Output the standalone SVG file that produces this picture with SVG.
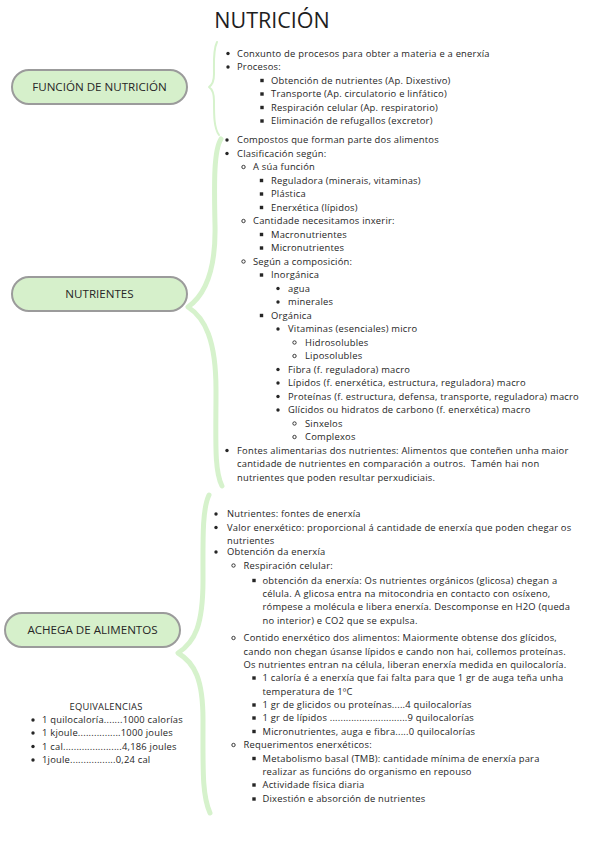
<svg xmlns="http://www.w3.org/2000/svg" xmlns:xlink="http://www.w3.org/1999/xlink" width="600" height="848" viewBox="0 0 600 848">
<style>
.t{font-family:"Open Sans","Noto Sans","DejaVu Sans",sans-serif;font-size:9.4px;letter-spacing:0.22px;fill:#262626}
.n{font-family:"Open Sans","Noto Sans","DejaVu Sans",sans-serif;font-size:11.6px;fill:#262626;text-anchor:middle}
.box{fill:#d6f0cb;stroke:#9b9b9b;stroke-width:2}
.br{fill:none;stroke:#d6f2cc;stroke-linecap:round;stroke-linejoin:round}
.title{font-family:"Open Sans","Noto Sans","DejaVu Sans",sans-serif;font-size:21.5px;fill:#1e1e1e;text-anchor:middle}
</style>
<defs>
<circle id="b1" r="1.7" fill="#262626"/>
<circle id="b2" r="1.7" fill="none" stroke="#262626" stroke-width="0.9"/>
<rect id="b3" x="-1.7" y="-1.7" width="3.4" height="3.4" fill="#262626"/>
</defs>
<rect width="600" height="848" fill="#fff"/>
<g id="title"><text class="title" x="272" y="28">NUTRICIÓN</text></g>

<g id="connectors">
<path class="br" stroke-width="2" d="M217,42 C213,50 214,62 214,74 C214,82 212,85 209,87 C212,89 214,93 214,101 C214,116 214,128 219,135"/>
<path class="br" stroke-width="5" d="M221,139 C214,150 214,180 215,225 C216,270 205,295 188,307 C205,318 216,340 216,390 C216,440 214,470 222,486"/>
<path class="br" stroke-width="5" d="M209,495 C202,510 203,540 203,580 C203,625 195,642 178,653 C195,663 203,680 203,720 C203,770 202,795 210,813"/>
</g>

<g id="node-funcion">
<rect class="box" x="12" y="70" width="175" height="34" rx="17"/>
<text class="n" x="99.5" y="91.2">FUNCIÓN DE NUTRICIÓN</text>
</g>
<g id="node-nutrientes">
<rect class="box" x="12" y="277" width="175" height="34" rx="17"/>
<text class="n" x="99.5" y="298.2">NUTRIENTES</text>
</g>
<g id="node-achega">
<rect class="box" x="5" y="613" width="175" height="34" rx="17"/>
<text class="n" x="92.5" y="634.2">ACHEGA DE ALIMENTOS</text>
</g>

<g id="list-funcion">
<use href="#b1" x="228" y="53.5"/><text class="t" x="237" y="56.5">Conxunto de procesos para obter a materia e a enerxía</text>
<use href="#b1" x="228" y="67"/><text class="t" x="237" y="70">Procesos:</text>
<use href="#b3" x="262" y="80.5"/><text class="t" x="271" y="83.5">Obtención de nutrientes (Ap. Dixestivo)</text>
<use href="#b3" x="262" y="94"/><text class="t" x="271" y="97">Transporte (Ap. circulatorio e linfático)</text>
<use href="#b3" x="262" y="107.5"/><text class="t" x="271" y="110.5">Respiración celular (Ap. respiratorio)</text>
<use href="#b3" x="262" y="121"/><text class="t" x="271" y="124">Eliminación de refugallos (excretor)</text>
</g>

<g id="list-nutrientes">
<use href="#b1" x="227" y="140"/><text class="t" x="237" y="143">Compostos que forman parte dos alimentos</text>
<use href="#b1" x="227" y="153.5"/><text class="t" x="237" y="156.5">Clasificación según:</text>
<use href="#b2" x="243.5" y="167"/><text class="t" x="253" y="170">A súa función</text>
<use href="#b3" x="261.5" y="180.5"/><text class="t" x="271" y="183.5">Reguladora (minerais, vitaminas)</text>
<use href="#b3" x="261.5" y="194"/><text class="t" x="271" y="197">Plástica</text>
<use href="#b3" x="261.5" y="207.5"/><text class="t" x="271" y="210.5">Enerxética (lípidos)</text>
<use href="#b2" x="243.5" y="221"/><text class="t" x="253" y="224">Cantidade necesitamos inxerir:</text>
<use href="#b3" x="261.5" y="234.5"/><text class="t" x="271" y="237.5">Macronutrientes</text>
<use href="#b3" x="261.5" y="248"/><text class="t" x="271" y="251">Micronutrientes</text>
<use href="#b2" x="243.5" y="261.5"/><text class="t" x="253" y="264.5">Según a composición:</text>
<use href="#b3" x="261.5" y="275"/><text class="t" x="271" y="278">Inorgánica</text>
<use href="#b1" x="278" y="288.5"/><text class="t" x="288" y="291.5">agua</text>
<use href="#b1" x="278" y="302"/><text class="t" x="288" y="305">minerales</text>
<use href="#b3" x="261.5" y="315.5"/><text class="t" x="271" y="318.5">Orgánica</text>
<use href="#b1" x="278" y="329"/><text class="t" x="288" y="332">Vitaminas (esenciales) micro</text>
<use href="#b2" x="294.5" y="342.5"/><text class="t" x="305" y="345.5">Hidrosolubles</text>
<use href="#b2" x="294.5" y="356"/><text class="t" x="305" y="359">Liposolubles</text>
<use href="#b1" x="278" y="369.5"/><text class="t" x="288" y="372.5">Fibra (f. reguladora) macro</text>
<use href="#b1" x="278" y="383"/><text class="t" x="288" y="386">Lípidos (f. enerxética, estructura, reguladora) macro</text>
<use href="#b1" x="278" y="396.5"/><text class="t" x="288" y="399.5">Proteínas (f. estructura, defensa, transporte, reguladora) macro</text>
<use href="#b1" x="278" y="410"/><text class="t" x="288" y="413">Glícidos ou hidratos de carbono (f. enerxética) macro</text>
<use href="#b2" x="294.5" y="423.5"/><text class="t" x="305" y="426.5">Sinxelos</text>
<use href="#b2" x="294.5" y="437"/><text class="t" x="305" y="440">Complexos</text>
<use href="#b1" x="227" y="450.5"/><text class="t" x="237" y="453.5">Fontes alimentarias dos nutrientes: Alimentos que conteñen unha maior</text>
<text class="t" x="237" y="467" xml:space="preserve">cantidade de nutrientes en comparación a outros.  Tamén hai non</text>
<text class="t" x="237" y="480.5">nutrientes que poden resultar perxudiciais.</text>
</g>

<g id="list-achega">
<use href="#b1" x="216" y="514"/><text class="t" x="227" y="517">Nutrientes: fontes de enerxía</text>
<use href="#b1" x="216" y="527.5"/><text class="t" x="227" y="530.5">Valor enerxético: proporcional á cantidade de enerxía que poden chegar os</text>
<text class="t" x="227" y="543.5">nutrientes</text>
<use href="#b1" x="216" y="552"/><text class="t" x="227" y="555">Obtención da enerxía</text>
<use href="#b2" x="233.5" y="565.5"/><text class="t" x="243.5" y="568.5">Respiración celular:</text>
<use href="#b3" x="254" y="580.5"/><text class="t" x="262.5" y="583.5">obtención da enerxía: Os nutrientes orgánicos (glicosa) chegan a</text>
<text class="t" x="262.5" y="597">célula. A glicosa entra na mitocondria en contacto con osíxeno,</text>
<text class="t" x="262.5" y="610">rómpese a molécula e libera enerxía. Descomponse en H2O (queda</text>
<text class="t" x="262.5" y="623.5">no interior) e CO2 que se expulsa.</text>
<use href="#b2" x="233.5" y="638"/><text class="t" x="243.5" y="641">Contido enerxético dos alimentos: Maiormente obtense dos glícidos,</text>
<text class="t" x="243.5" y="654.5">cando non chegan úsanse lípidos e cando non hai, collemos proteínas.</text>
<text class="t" x="243.5" y="667.5">Os nutrientes entran na célula, liberan enerxía medida en quilocaloría.</text>
<use href="#b3" x="254" y="678"/><text class="t" x="262.5" y="681">1 caloría é a enerxía que fai falta para que 1 gr de auga teña unha</text>
<text class="t" x="262.5" y="694.5">temperatura de 1ºC</text>
<use href="#b3" x="254" y="705"/><text class="t" x="262.5" y="708">1 gr de glicidos ou proteínas.....4 quilocalorías</text>
<use href="#b3" x="254" y="718"/><text class="t" x="262.5" y="721">1 gr de lípidos .............................9 quilocalorías</text>
<use href="#b3" x="254" y="731.5"/><text class="t" x="262.5" y="734.5">Micronutrientes, auga e fibra.....0 quilocalorías</text>
<use href="#b2" x="233.5" y="745"/><text class="t" x="243.5" y="748">Requerimentos enerxéticos:</text>
<use href="#b3" x="254" y="758.5"/><text class="t" x="262.5" y="761.5">Metabolismo basal (TMB): cantidade mínima de enerxía para</text>
<text class="t" x="262.5" y="775">realizar as funcións do organismo en repouso</text>
<use href="#b3" x="254" y="785"/><text class="t" x="262.5" y="788">Actividade física diaria</text>
<use href="#b3" x="254" y="799"/><text class="t" x="262.5" y="802">Dixestión e absorción de nutrientes</text>
</g>

<g id="equivalencias">
<text class="t" x="106" y="709.5" text-anchor="middle">EQUIVALENCIAS</text>
<use href="#b1" x="33" y="720"/><text class="t" x="42" y="723">1 quilocaloría.......1000 calorías</text>
<use href="#b1" x="33" y="733"/><text class="t" x="42" y="736">1 kjoule................1000 joules</text>
<use href="#b1" x="33" y="746.5"/><text class="t" x="42" y="749.5">1 cal......................4,186 joules</text>
<use href="#b1" x="33" y="760"/><text class="t" x="42" y="763">1joule.................0,24 cal</text>
</g>
</svg>
